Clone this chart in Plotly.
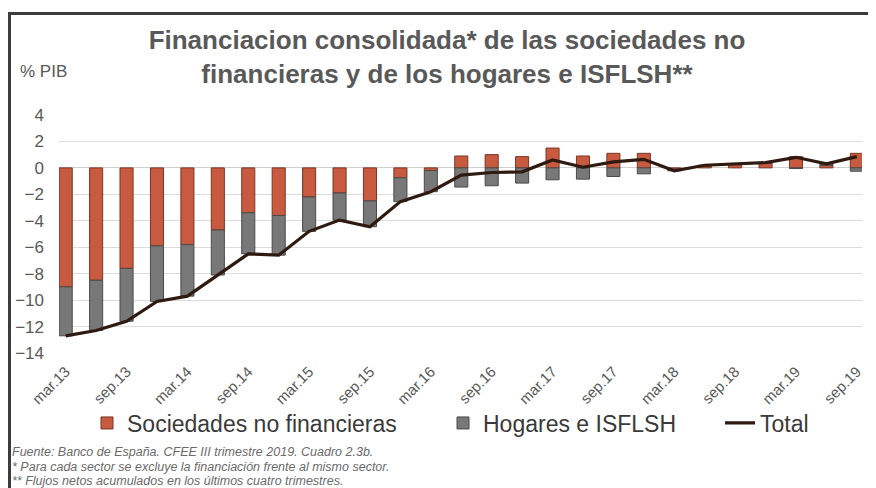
import plotly.graph_objects as go

quarters = ["mar.13", "jun.13", "sep.13", "dic.13", "mar.14", "jun.14", "sep.14", "dic.14",
            "mar.15", "jun.15", "sep.15", "dic.15", "mar.16", "jun.16", "sep.16", "dic.16",
            "mar.17", "jun.17", "sep.17", "dic.17", "mar.18", "jun.18", "sep.18", "dic.18",
            "mar.19", "jun.19", "sep.19"]
sociedades = [-9.0, -8.5, -7.6, -5.9, -5.8, -4.7, -3.4, -3.6,
              -2.2, -1.9, -2.5, -0.75, -0.2, 0.9, 1.0, 0.85,
              1.5, 0.9, 1.1, 1.1, -0.1, 0.15, 0.25, 0.35,
              0.85, 0.2, 1.1]
hogares = [-3.7, -3.8, -4.0, -4.2, -3.9, -3.4, -3.1, -3.0,
           -2.6, -2.05, -1.95, -1.8, -1.6, -1.45, -1.35, -1.15,
           -0.9, -0.85, -0.65, -0.45, -0.12, 0.05, 0.05, 0.05,
           -0.05, 0.1, -0.25]
total = [-12.7, -12.3, -11.6, -10.1, -9.7, -8.1, -6.5, -6.6,
         -4.8, -3.95, -4.45, -2.55, -1.8, -0.55, -0.35, -0.3,
         0.6, 0.05, 0.45, 0.65, -0.22, 0.2, 0.3, 0.4,
         0.8, 0.3, 0.85]
tick_labels = quarters[::2]
y_ticks = list(range(-14, 5, 2))

# the page body has an 8px margin; the figure fills the rest of the 876x488 window
OFF = 8
W, H = 876 - OFF, 488 - OFF
# plot area in page pixels
L, R, T, B = 59, 862, 115, 353
pw, ph = R - L, B - T

def px_x(p):          # page px -> paper x
    return (p - L) / pw

def px_y(p):          # page px -> paper y
    return (B - p) / ph

def cx(p):            # page px -> container x
    return (p - OFF) / W

def cy(p):            # page px -> container y
    return 1 - (p - OFF) / H

grey_txt = "#595959"
font_fam = "Liberation Sans, Arial, sans-serif"

fig = go.Figure()
fig.add_trace(go.Bar(
    x=quarters, y=sociedades, name="Sociedades no financieras",
    marker=dict(color="#c85a40", line=dict(color="#7a3422", width=1)),
    width=0.43, legend="legend"))
fig.add_trace(go.Bar(
    x=quarters, y=hogares, name="Hogares e ISFLSH",
    marker=dict(color="#787878", line=dict(color="#4a4a4a", width=1)),
    width=0.43, legend="legend2"))
fig.add_trace(go.Scatter(
    x=quarters, y=total, name="Total", mode="lines",
    line=dict(color="#2e1a10", width=3.2), legend="legend3"))

xr = [-0.22, 26.17]
leg_common = dict(orientation="h", bgcolor="rgba(0,0,0,0)", borderwidth=0,
                  font=dict(family=font_fam, size=23, color="#3a3a3a"),
                  xref="container", yref="container", visible=True,
                  yanchor="middle", y=cy(423), xanchor="left")

fig.update_layout(
    width=W, height=H,
    margin=dict(l=L - OFF, r=876 - R, t=T - OFF, b=488 - B, pad=0, autoexpand=False),
    paper_bgcolor="white", plot_bgcolor="white",
    barmode="relative", showlegend=True,
    font=dict(family=font_fam, color=grey_txt),
    title=dict(
        text="Financiacion consolidada* de las sociedades no<br>financieras y de los hogares e ISFLSH**",
        font=dict(family=font_fam, size=26, color=grey_txt, weight="bold"),
        x=cx(447), xanchor="center", xref="container",
        y=cy(49), yanchor="top", yref="container"),
    xaxis=dict(type="category", range=xr, tickmode="array",
               tickvals=tick_labels, ticktext=tick_labels, tickangle=-45,
               showgrid=False, zeroline=False, showline=False, ticks="",
               tickfont=dict(size=15, color=grey_txt), ticklabelstandoff=6,
               automargin=False),
    xaxis2=dict(overlaying="x", type="linear", range=xr, anchor="y",
                tickmode="array", tickvals=[2 * k - 0.2 for k in range(14)],
                showticklabels=False, ticks="", showgrid=True,
                gridcolor="#dcdcdc", gridwidth=1, zeroline=False),
    yaxis=dict(range=[-14, 4], tickmode="array", tickvals=y_ticks,
               showgrid=True, gridcolor="#dcdcdc", gridwidth=1,
               zeroline=True, zerolinecolor="#cfcfcf", zerolinewidth=1,
               showline=False, ticks="", ticklabelstandoff=14,
               tickfont=dict(size=17, color=grey_txt), automargin=False),
    legend=dict(x=cx(87), **leg_common),
    legend2=dict(x=cx(443), **leg_common),
    legend3=dict(x=cx(720), **leg_common),
)

fig.add_annotation(text="% PIB", xref="paper", yref="paper",
                   x=px_x(18), y=px_y(72), xanchor="left", yanchor="middle",
                   showarrow=False, font=dict(size=17, color=grey_txt))
notes = ["Fuente: Banco de España. CFEE III trimestre 2019. Cuadro 2.3b.",
         "* Para cada sector se excluye la financiación frente al mismo sector.",
         "** Flujos netos acumulados en los últimos cuatro trimestres."]
for txt, yy in zip(notes, [452, 467, 481]):
    fig.add_annotation(text="<i>" + txt + "</i>", xref="paper", yref="paper",
                       x=px_x(10), y=px_y(yy), xanchor="left", yanchor="middle",
                       align="left", showarrow=False,
                       font=dict(size=12.5, color="#6a6a6a"))

# chart frame (top and left edges visible in the crop)
fig.add_shape(type="line", xref="paper", yref="paper",
              x0=px_x(9.5), x1=px_x(880), y0=px_y(13.5), y1=px_y(13.5),
              line=dict(color="#3c3c3c", width=3))
fig.add_shape(type="line", xref="paper", yref="paper",
              x0=px_x(9.5), x1=px_x(9.5), y0=px_y(12), y1=px_y(492),
              line=dict(color="#3c3c3c", width=3))

fig.write_html("out.html")
